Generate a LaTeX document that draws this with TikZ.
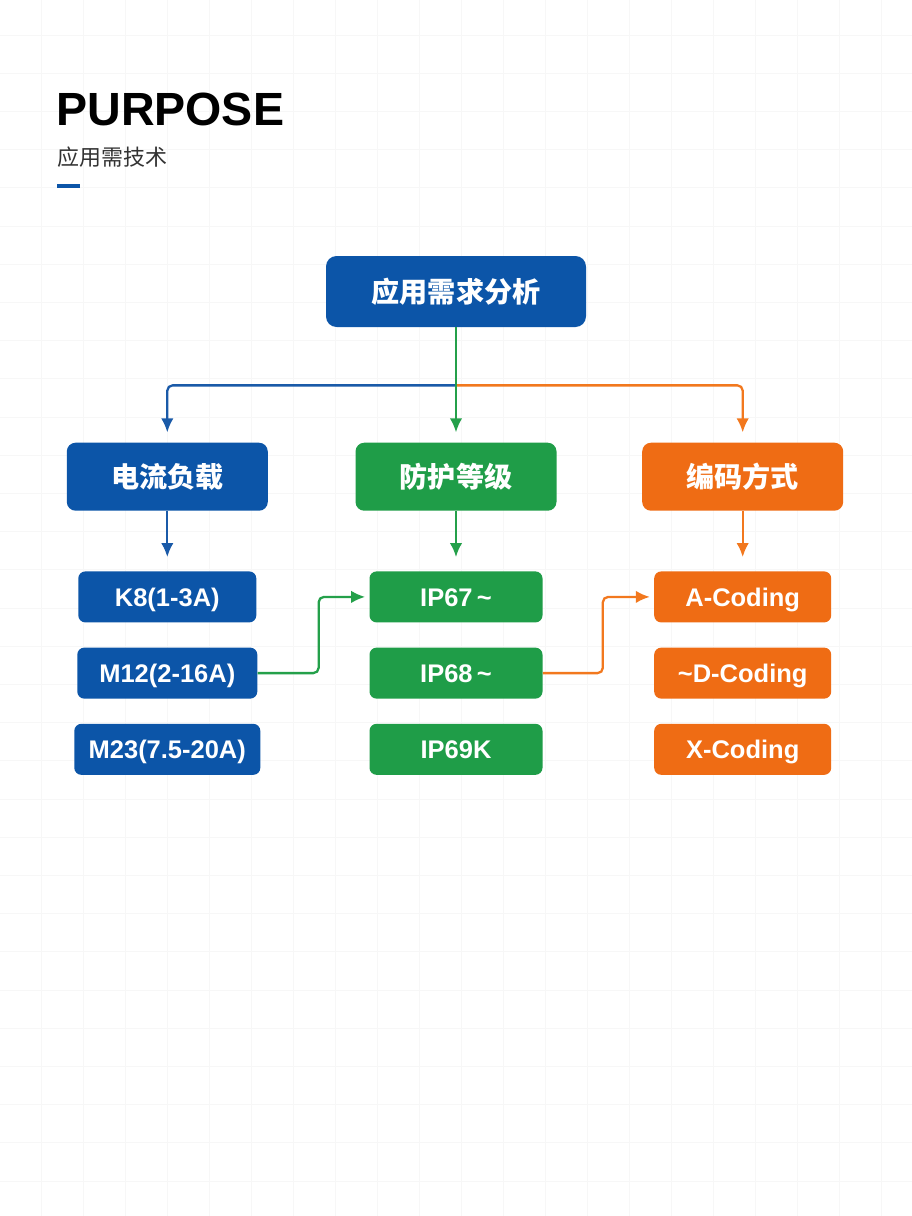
\documentclass[tikz,border=0pt]{standalone}
\usepackage{fontspec}
\setmainfont{Liberation Sans}
\newfontfamily\cjk{Noto Sans CJK SC}
\usepackage{xcolor}
\usepackage{tikz}
\usetikzlibrary{arrows.meta,positioning,calc}
\definecolor{cblue}{HTML}{0C55A8}
\definecolor{cgreen}{HTML}{1F9D48}
\definecolor{corange}{HTML}{EF6C14}
\definecolor{lblue}{HTML}{1A5AA8}
\definecolor{lgreen}{HTML}{24A04A}
\definecolor{lorange}{HTML}{F2781E}
\tikzset{
    rootbox/.style={
        rounded corners=6pt,
        fill=cblue,
        text=white,
        font=\cjk\bfseries\fontsize{16}{18}\selectfont,
        minimum width=5.2cm,
        minimum height=1.42cm
    },
    headbox/.style={
        rounded corners=5pt,
        text=white,
        font=\cjk\bfseries\fontsize{16}{18}\selectfont,
        minimum width=4.02cm,
        minimum height=1.36cm
    },
    itembox/.style={
        rounded corners=4pt,
        text=white,
        font=\bfseries\fontsize{14.5}{16}\selectfont,
        inner sep=2pt,
        text height=10.4pt,
        text depth=0pt,
        minimum height=1.02cm
    },
    link/.style={
        -{Latex[length=2.8mm,width=2.5mm]},
        line width=1.3pt
    }
}
\begin{document}
\begin{tikzpicture}[node distance=0.49cm and 1.72cm]
        \useasboundingbox (0,0) rectangle (18.24,-24.32);
        \fill[white] (0,0) rectangle (18.24,-24.32);
        % faint background grid
        \foreach \k in {0,...,20}
            \draw[black!3, line width=0.5pt] ({0.82+0.84*\k},0) -- ({0.82+0.84*\k},-24.32);
        \foreach \k in {0,...,30}
            \draw[black!3, line width=0.5pt] (0,{-0.70-0.764*\k}) -- (18.24,{-0.70-0.764*\k});

        % heading
        \node[anchor=base west, inner sep=0, font=\bfseries\fontsize{26.5}{30}\selectfont] (title) at (1.12,-2.5) {PURPOSE};
        \node[anchor=base west, inner sep=0, text=black!80, font=\cjk\fontsize{12.5}{14}\selectfont] (subtitle) at (1.14,-3.31) {应用需技术};
        \fill[cblue] (1.14,-3.68) rectangle (1.6,-3.76);

        \node[rootbox] (need) at (9.12,-5.83) {应用需求分析};

        \node[headbox, fill=cgreen, below=2.3cm of need] (protect) {防护等级};
        \node[headbox, fill=cblue, left=1.74cm of protect] (load) {电流负载};
        \node[headbox, fill=corange, right=1.7cm of protect] (coding) {编码方式};

        \node[itembox, fill=cblue, minimum width=3.56cm, below=1.2cm of load] (k8) {K8(1-3A)};
        \node[itembox, fill=cblue, minimum width=3.6cm, below=of k8] (m12) {M12(2-16A)};
        \node[itembox, fill=cblue, minimum width=3.72cm, below=of m12] (m23) {M23(7.5-20A)};

        \node[itembox, fill=cgreen, minimum width=3.46cm, below=1.2cm of protect] (ip67) {IP67\,\textasciitilde};
        \node[itembox, fill=cgreen, minimum width=3.46cm, below=of ip67] (ip68) {IP68\,\textasciitilde};
        \node[itembox, fill=cgreen, minimum width=3.46cm, below=of ip68] (ip69k) {IP69K};

        \node[itembox, fill=corange, minimum width=3.54cm, below=1.2cm of coding] (acode) {A-Coding};
        \node[itembox, fill=corange, minimum width=3.54cm, below=of acode] (dcode) {\textasciitilde D-Coding};
        \node[itembox, fill=corange, minimum width=3.54cm, below=of dcode] (xcode) {X-Coding};

        \coordinate[below=1.16cm of need] (split);

        \draw[link, lblue, rounded corners=3pt, shorten >=0.2cm] (split) -| (load.north);
        \draw[link, lorange, rounded corners=3pt, shorten >=0.2cm] (split) -| (coding.north);
        \draw[link, lgreen, shorten >=0.2cm] (need.south) -- (protect.north);

        \draw[link, lblue, shorten >=0.28cm] (load.south) -- (k8.north);
        \draw[link, lgreen, shorten >=0.28cm] (protect.south) -- (ip67.north);
        \draw[link, lorange, shorten >=0.28cm] (coding.south) -- (acode.north);

        \draw[link, lgreen, rounded corners=3pt, shorten >=0.08cm] (m12.east) -- ++(1.22,0) |- (ip67.west);
        \draw[link, lorange, rounded corners=3pt, shorten >=0.08cm] (ip68.east) -- ++(1.2,0) |- (acode.west);
    \end{tikzpicture}
\end{document}
